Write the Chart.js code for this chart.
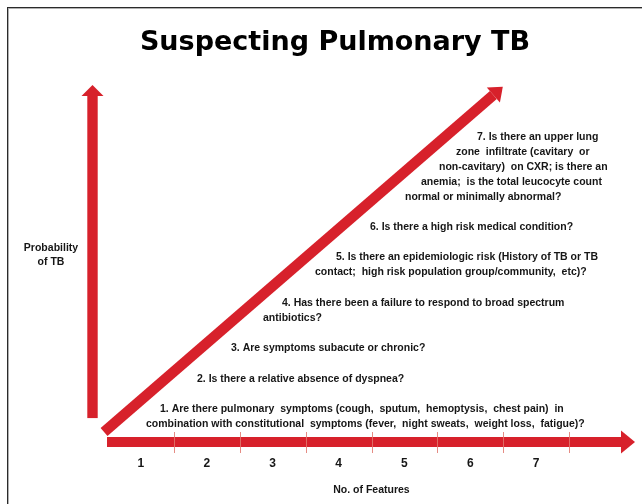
<!DOCTYPE html>
<html><head><meta charset="utf-8">
<script src="https://cdn.jsdelivr.net/npm/chart.js@4.4.1/dist/chart.umd.min.js"></script>
<style>html,body{margin:0;padding:0;background:#fff;overflow:hidden;} #wrap{width:642px;height:504px;}</style>
</head><body><div id="wrap"><canvas id="c" width="642" height="504"></canvas></div>
<script>
// ---------- data ----------
const chartTitle = 'Suspecting Pulmonary TB';
const yAxisLabel = ['Probability', 'of TB'];
const xAxisLabel = 'No. of Features';
const featureTicks = ['1', '2', '3', '4', '5', '6', '7'];
const featureValues = [1, 2, 3, 4, 5, 6, 7];
const tickMarkValues = [1.5, 2.5, 3.5, 4.5, 5.5, 6.5, 7.5];
const trendX = [0.44, 6.35];
const trendY = [0.028, 0.972];
const questions = [
  ['1. Are there pulmonary  symptoms (cough,  sputum,  hemoptysis,  chest pain)  in',
   'combination with constitutional  symptoms (fever,  night sweats,  weight loss,  fatigue)?'],
  ['2. Is there a relative absence of dyspnea?'],
  ['3. Are symptoms subacute or chronic?'],
  ['4. Has there been a failure to respond to broad spectrum', 'antibiotics?'],
  ['5. Is there an epidemiologic risk (History of TB or TB', 'contact;  high risk population group/community,  etc)?'],
  ['6. Is there a high risk medical condition?'],
  ['7. Is there an upper lung', 'zone  infiltrate (cavitary  or', 'non-cavitary)  on CXR; is there an',
   'anemia;  is the total leucocyte count', 'normal or minimally abnormal?']
];

// ---------- layout / style (pixels) ----------
const questionLayout = [
  [[160, 409], [146, 424]],
  [[197, 379]],
  [[231, 348]],
  [[282, 303], [263, 318]],
  [[336, 257], [315, 272]],
  [[370, 227]],
  [[477, 137], [456, 152], [439, 167], [421, 182], [405, 197]]
];
const RED = '#d7212b';
const TXT = '#161616';
const BODY_FONT = 'bold 10.5px "Liberation Sans", Arial, sans-serif';

const drawPlugin = {
  id: 'diagram',
  beforeDatasetsDraw(chart) {
    const ctx = chart.ctx;
    const xs = chart.scales.x, ys = chart.scales.y;
    const ca = chart.chartArea;
    ctx.save();
    // frame
    ctx.fillStyle = '#2a2a2a';
    ctx.fillRect(7, 7, 1, 504);
    ctx.fillRect(7, 7, 642, 1);
    ctx.fillStyle = '#b0b0b0';
    ctx.fillRect(8, 8, 1, 504);
    ctx.fillRect(8, 8, 642, 1);

    ctx.fillStyle = RED;
    // horizontal arrow (x axis)
    const y0 = ys.getPixelForValue(0);
    const xa = xs.getPixelForValue(xs.min) - 1;
    const xt = xs.getPixelForValue(xs.max);
    const hl = 14, hh = 11.5, sh = 5;
    ctx.fillRect(xa, y0 - sh, (xt - hl) - xa, sh * 2);
    ctx.beginPath();
    ctx.moveTo(xt - hl, y0 - hh); ctx.lineTo(xt, y0); ctx.lineTo(xt - hl, y0 + hh); ctx.closePath();
    ctx.fill();

    // vertical arrow (y axis)
    const vx = ca.left - 15.5;
    const vb = ys.getPixelForValue(0.067);
    const vt = ys.getPixelForValue(1);
    const vl = 11, vw = 11, vs = 5.2;
    ctx.fillRect(vx - vs, vt + vl, vs * 2, vb - (vt + vl));
    ctx.beginPath();
    ctx.moveTo(vx - vw, vt + vl); ctx.lineTo(vx, vt); ctx.lineTo(vx + vw, vt + vl); ctx.closePath();
    ctx.fill();

    // tick marks between feature numbers
    ctx.fillStyle = 'rgba(225,120,110,0.85)';
    tickMarkValues.forEach(v => {
      const px = Math.round(xs.getPixelForValue(v));
      ctx.fillRect(px, y0 - 10, 1, 21);
    });
    ctx.restore();
  },
  afterDatasetsDraw(chart) {
    const ctx = chart.ctx;
    const meta = chart.getDatasetMeta(0);
    const p0 = meta.data[0], p1 = meta.data[meta.data.length - 1];
    const dx = p1.x - p0.x, dy = p1.y - p0.y;
    const len = Math.hypot(dx, dy);
    const ux = dx / len, uy = dy / len;
    const px = -uy, py = ux;
    const hl = 12.5, hw = 10;
    ctx.save();
    ctx.fillStyle = RED;
    ctx.beginPath();
    ctx.moveTo(p1.x + px * hw, p1.y + py * hw);
    ctx.lineTo(p1.x + ux * hl, p1.y + uy * hl);
    ctx.lineTo(p1.x - px * hw, p1.y - py * hw);
    ctx.closePath();
    ctx.fill();
    ctx.restore();
  },
  afterDraw(chart) {
    const ctx = chart.ctx;
    ctx.save();
    ctx.fillStyle = '#000';
    // title
    ctx.font = 'bold 27px "DejaVu Sans", Verdana, sans-serif';
    ctx.textAlign = 'center';
    ctx.textBaseline = 'alphabetic';
    ctx.fillText(chartTitle, 335, 50);
    // y label
    ctx.fillStyle = TXT;
    ctx.font = BODY_FONT;
    ctx.textBaseline = 'middle';
    yAxisLabel.forEach((t, i) => ctx.fillText(t, 51, 248 + i * 14));
    // questions
    ctx.textAlign = 'left';
    questions.forEach((lines, qi) => {
      lines.forEach((t, li) => {
        const pos = questionLayout[qi][li];
        ctx.fillText(t, pos[0], pos[1]);
      });
    });
    ctx.restore();
  }
};

new Chart(document.getElementById('c'), {
  type: 'line',
  data: {
    datasets: [{
      label: 'Probability of TB',
      data: trendX.map((x, i) => ({ x: x, y: trendY[i] })),
      borderColor: RED,
      borderWidth: 10.5,
      borderCapStyle: 'butt',
      pointRadius: 0,
      fill: false,
      tension: 0,
      clip: false
    }]
  },
  options: {
    responsive: false,
    devicePixelRatio: 1,
    animation: false,
    events: [],
    layout: { padding: { left: 108, right: 7, top: 85, bottom: 0 } },
    plugins: { legend: { display: false }, title: { display: false }, tooltip: { enabled: false } },
    scales: {
      x: {
        type: 'linear',
        min: 0.5,
        max: 8.5,
        afterBuildTicks: (scale) => { scale.ticks = featureValues.map(v => ({ value: v })); },
        afterFit: (scale) => { scale.height = 62; },
        grid: { display: false, drawTicks: false },
        border: { display: false },
        ticks: {
          padding: 14.5,
          color: TXT,
          font: { family: '"Liberation Sans", Arial, sans-serif', size: 12, weight: 'bold' },
          callback: (v) => featureTicks[featureValues.indexOf(v)] || ''
        },
        title: {
          display: true,
          text: xAxisLabel,
          color: TXT,
          font: { family: '"Liberation Sans", Arial, sans-serif', size: 10.5, weight: 'bold' },
          padding: { top: 0, bottom: 8 }
        }
      },
      y: {
        type: 'linear',
        min: 0,
        max: 1,
        display: false
      }
    }
  },
  plugins: [drawPlugin]
});
</script>
</body></html>
